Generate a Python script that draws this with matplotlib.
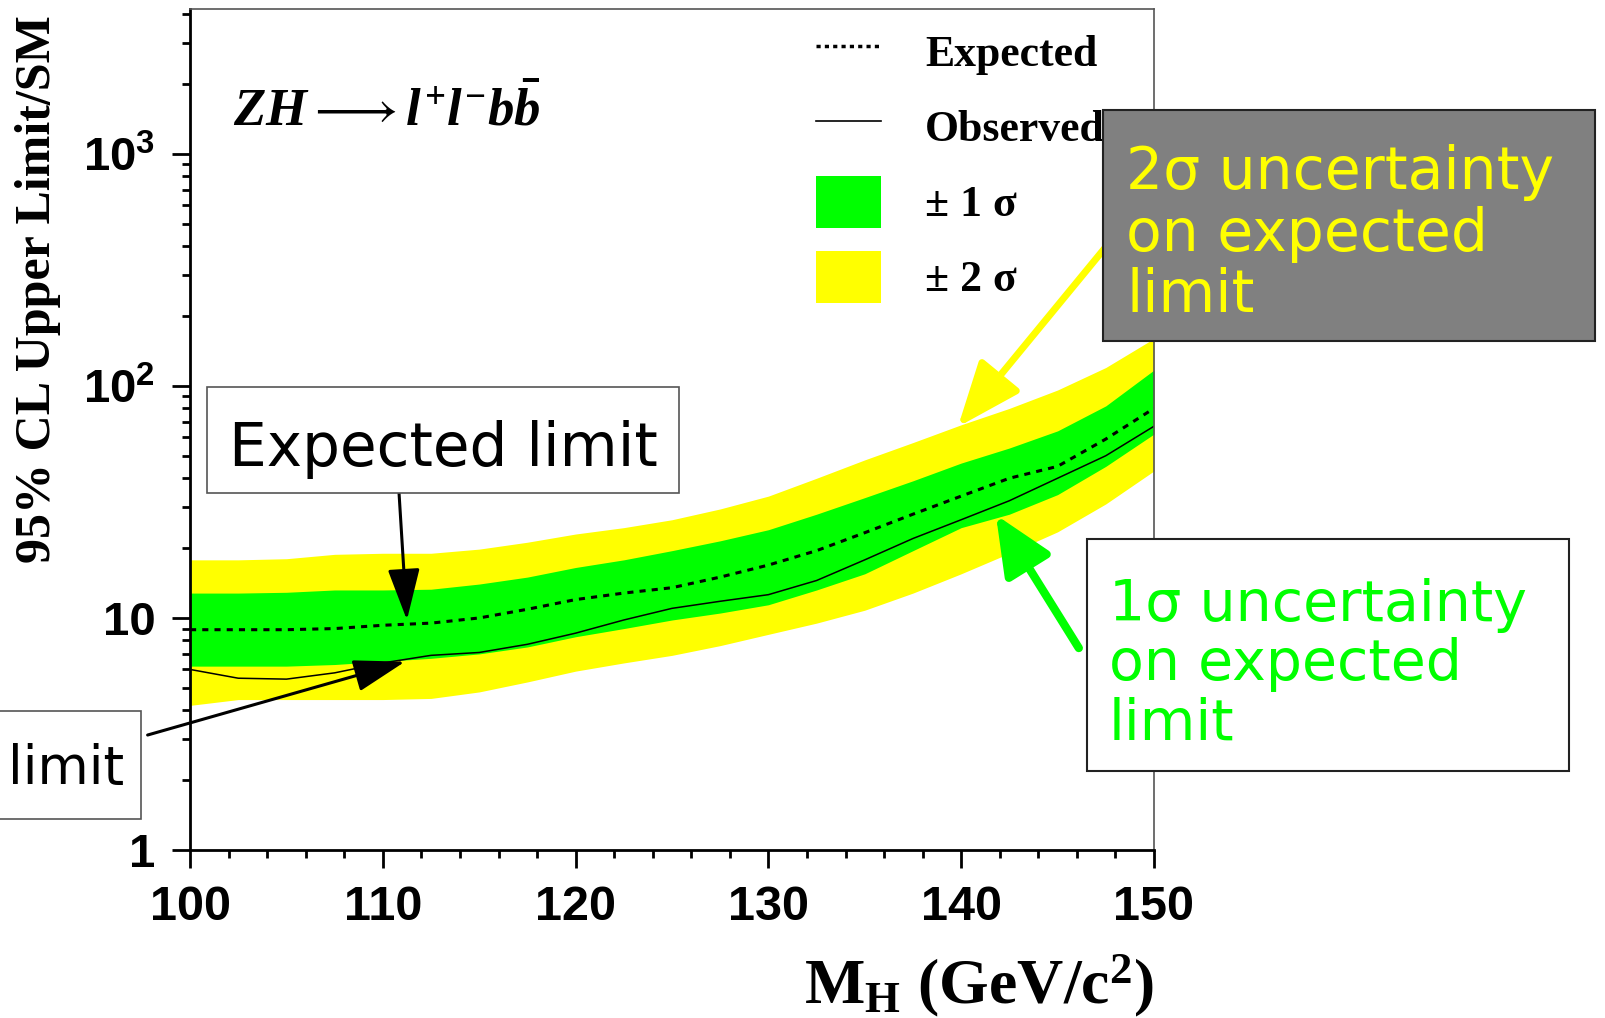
import matplotlib
matplotlib.use("Agg")
import matplotlib.pyplot as plt
from matplotlib.lines import Line2D
from matplotlib.patches import Patch, Rectangle
from matplotlib.ticker import LogLocator, NullFormatter

plt.rcParams["mathtext.fontset"] = "custom"
plt.rcParams["mathtext.rm"] = "Liberation Serif:bold"
plt.rcParams["mathtext.bf"] = "Liberation Serif:bold"
plt.rcParams["mathtext.it"] = "Liberation Serif:bold:italic"

# Higgs mass points (GeV/c^2) and limits
mass = [100, 102.5, 105, 107.5, 110, 112.5, 115, 117.5, 120, 122.5, 125,
        127.5, 130, 132.5, 135, 137.5, 140, 142.5, 145, 147.5, 150]
expected = [8.9, 8.9, 8.9, 9.0, 9.3, 9.5, 10.0, 10.9, 12.0, 12.8, 13.5,
            15.0, 16.9, 19.5, 23.3, 28.0, 33.5, 40.0, 45.0, 59.0, 80.0]
observed = [6.0, 5.5, 5.45, 5.8, 6.4, 6.9, 7.1, 7.7, 8.6, 9.8, 11.0,
            11.8, 12.6, 14.5, 17.8, 22.0, 26.5, 32.0, 40.0, 50.0, 67.0]
one_sig_hi = [12.8, 12.8, 12.9, 13.2, 13.2, 13.3, 14.0, 15.0, 16.5, 17.8, 19.5,
              21.5, 24.0, 28.0, 33.0, 39.0, 46.5, 54.0, 64.0, 82.0, 117.0]
one_sig_lo = [6.2, 6.2, 6.2, 6.3, 6.5, 6.7, 7.0, 7.5, 8.3, 9.0, 9.8,
              10.5, 11.4, 13.2, 15.5, 19.5, 24.5, 28.0, 34.0, 45.0, 62.0]
two_sig_hi = [17.8, 17.8, 18.0, 18.8, 19.0, 19.0, 19.8, 21.2, 23.0, 24.5, 26.5,
              29.5, 33.5, 40.0, 48.0, 57.0, 68.0, 80.0, 96.0, 120.0, 160.0]
two_sig_lo = [4.2, 4.45, 4.45, 4.45, 4.45, 4.5, 4.8, 5.3, 5.9, 6.4, 6.9,
              7.6, 8.5, 9.5, 10.8, 12.8, 15.5, 19.0, 23.5, 31.0, 43.0]

xticks = [100, 110, 120, 130, 140, 150]
yticks = [1, 10, 100, 1000]
ytick_labels = ["1", "10", r"$\mathdefault{10^{2}}$", r"$\mathdefault{10^{3}}$"]

fig = plt.figure(figsize=(16.05, 10.18), dpi=100)
ax = fig.add_axes([0.1184, 0.165, 0.6006, 0.826])

ax.fill_between(mass, two_sig_lo, two_sig_hi, color="#ffff00", lw=0)
ax.fill_between(mass, one_sig_lo, one_sig_hi, color="#00ff00", lw=0)
ax.plot(mass, expected, color="black", ls=(0, (2, 2)), lw=2.2)
ax.plot(mass, observed, color="black", lw=1.1)

ax.set_yscale("log")
ax.set_xlim(100, 150)
ax.set_ylim(1, 4200)

ax.set_xticks(xticks)
ax.set_xticks(range(100, 151, 2), minor=True)
ax.set_xticklabels([str(t) for t in xticks], fontfamily="Liberation Sans",
                   fontweight="bold", fontsize=35)
ax.set_yticks(yticks)
ax.set_yticklabels(ytick_labels, fontfamily="Liberation Sans",
                   fontweight="bold", fontsize=34)
ax.yaxis.set_minor_locator(LogLocator(base=10, subs=range(2, 10)))
ax.yaxis.set_minor_formatter(NullFormatter())
ax.tick_params(which="major", direction="out", length=13, width=2, pad=12)
ax.tick_params(which="minor", direction="out", length=6, width=2)
ax.tick_params(top=False, right=False)

for side in ["left", "bottom"]:
    ax.spines[side].set_linewidth(2)
for side in ["top", "right"]:
    ax.spines[side].set_linewidth(1.2)
    ax.spines[side].set_color("#555555")

ax.set_ylabel("95% CL Upper Limit/SM", fontfamily="Liberation Serif",
              fontweight="bold", fontsize=36)
ax.yaxis.set_label_coords(-0.158, 0.667)
ax.yaxis.label.set_va("center")

ax.set_xlabel(r"$\mathrm{M_H\ (GeV/c^2)}$", fontsize=46)
ax.xaxis.set_label_coords(1.0, -0.122)
ax.xaxis.label.set_ha("right")
ax.xaxis.label.set_va("top")

ax.text(0.045, 0.879, r"$ZH \longrightarrow l^{+}l^{-}b\bar{b}$", fontsize=38,
        transform=ax.transAxes, va="center")

handles = [Line2D([], [], color="black", ls=(0, (1.2, 1.2)), lw=2.5),
           Line2D([], [], color="black", lw=1.2),
           Patch(color="#00ff00", lw=0),
           Patch(color="#ffff00", lw=0)]
labels = ["Expected", "Observed", "\u00b1 1 \u03c3", "\u00b1 2 \u03c3"]
ax.legend(handles, labels, loc="upper left", bbox_to_anchor=(0.649, 0.980),
          frameon=False, prop=dict(family="Liberation Serif", weight="bold", size=31.5),
          handlelength=1.5, handleheight=1.45, labelspacing=0.525,
          handletextpad=1.0, borderpad=0, borderaxespad=0)

# annotation boxes
fig.patches.append(Rectangle((0.129, 0.5157), 0.294, 0.104, transform=fig.transFigure,
                             facecolor="white", edgecolor="#555555", lw=1.2))
fig.text(0.276, 0.558, "Expected limit", fontsize=43, va="center", ha="center")

fig.patches.append(Rectangle((-0.25, 0.1955), 0.3378, 0.106, transform=fig.transFigure,
                             facecolor="white", edgecolor="#555555", lw=1.2))
fig.text(0.0775, 0.2446, "limit", fontsize=38, va="center", ha="right")

fig.patches.append(Rectangle((0.6872, 0.665), 0.3065, 0.2269, transform=fig.transFigure,
                             facecolor="#808080", edgecolor="#222222", lw=1.5))
fig.text(0.7016, 0.770, "2\u03c3 uncertainty\non expected\nlimit", fontsize=42,
         color="#ffff00", va="center", ha="left", linespacing=1.1)

fig.patches.append(Rectangle((0.6773, 0.2426), 0.3003, 0.2279, transform=fig.transFigure,
                             facecolor="white", edgecolor="#222222", lw=1.5))
fig.text(0.691, 0.347, "1\u03c3 uncertainty\non expected\nlimit", fontsize=41,
         color="#00ff00", va="center", ha="left", linespacing=1.1)

# arrows
ax.annotate("", xy=(111.25, 9.8), xytext=(110.84, 34.6), annotation_clip=False,
            arrowprops=dict(arrowstyle="-|>,head_length=0.8,head_width=0.25",
                            mutation_scale=40, lw=2.2, color="black",
                            shrinkA=0, shrinkB=0))
ax.annotate("", xy=(111.15, 6.48), xytext=(97.8, 3.13), annotation_clip=False,
            arrowprops=dict(arrowstyle="-|>,head_length=0.8,head_width=0.25",
                            mutation_scale=40, lw=2.2, color="black",
                            shrinkA=0, shrinkB=0))
ax.annotate("", xy=(139.83, 66.6), xytext=(147.5, 397), annotation_clip=False,
            arrowprops=dict(arrowstyle="-|>,head_length=1.0,head_width=0.4",
                            mutation_scale=40, lw=5, color="#ffff00",
                            shrinkA=0, shrinkB=0))
ax.annotate("", xy=(141.8, 27.8), xytext=(146.1, 7.42), annotation_clip=False,
            arrowprops=dict(arrowstyle="-|>,head_length=0.9,head_width=0.4",
                            mutation_scale=40, lw=6, color="#00ff00",
                            shrinkA=0, shrinkB=0))

fig.savefig("out.png", dpi=100)
